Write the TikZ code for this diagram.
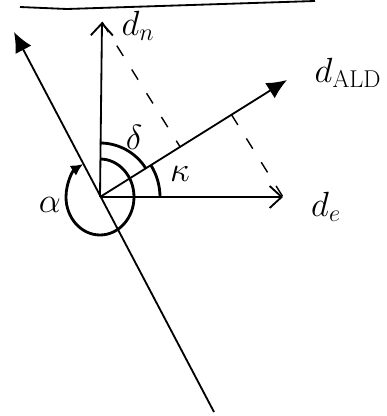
\documentclass[tikz,border=0pt]{standalone}
\usepackage{amsmath, amssymb}
\usepackage{tikz}
\usetikzlibrary{arrows.meta,calc}

\begin{document}
\begin{tikzpicture}[x=0.025cm, y=0.025cm, >=Latex, line width=1.3pt,
    every node/.style={font=\fontsize{27}{32}\selectfont},
    greek/.style={font=\fontsize{34}{38}\selectfont},
    solidhead/.style={-{Latex[length=5mm,width=4.5mm]}},
    openhead/.style={-{Straight Barb[length=3mm,width=5.5mm]}},
    proj/.style={dash pattern=on 3mm off 4mm, line width=1pt},
    anglearc/.style={line width=2pt}]
      \useasboundingbox (-100,-219) rectangle (287,197);

      % points of the sketch
      \coordinate (O) at (0,0);
      \coordinate (dn) at (2,175);
      \coordinate (de) at (183,0);
      \coordinate (dald) at (187,117);
      \coordinate (up) at (-86,165);
      \coordinate (low) at (114,-215);
      \coordinate (fn) at ($(O)!(dn)!(dald)$);
      \coordinate (fe) at ($(O)!(de)!(dald)$);
      \coordinate (t1) at (-80,190);
      \coordinate (t2) at (-33,188);
      \coordinate (t3) at (215,196);

      \draw (t1) -- (t2) -- (t3);

      \draw[openhead] (O) -- (dn);
      \draw[openhead] (O) -- (de);
      \draw[solidhead] (O) -- (dald);
      \draw[solidhead] (low) -- (up);

      \draw[proj] (dn) -- (fn);
      \draw[proj] (fe) -- (de);

      % angles
      \draw[anglearc] (O) ++(90:54) arc[start angle=90, end angle=32, radius=54];
      \draw[anglearc] (O) ++(0:60) arc[start angle=0, end angle=32, radius=60];
      \draw[anglearc, -{Latex[length=3mm,width=3mm]}] (O) ++(90:38)
        arc[start angle=90, end angle=-240, x radius=34, y radius=38];

      \node (ldn) at (38,171) {$d_n$};
      \node (lde) at (226,-10) {$d_e$};
      \node (ldald) at (248,124) {$d_{\mathrm{ALD}}$};
      \node[greek] (ldelta) at (34,60) {$\delta$};
      \node[greek] (lkappa) at (80,23) {$\kappa$};
      \node[greek] (lalpha) at (-50,-8) {$\alpha$};
    \end{tikzpicture}
\end{document}
